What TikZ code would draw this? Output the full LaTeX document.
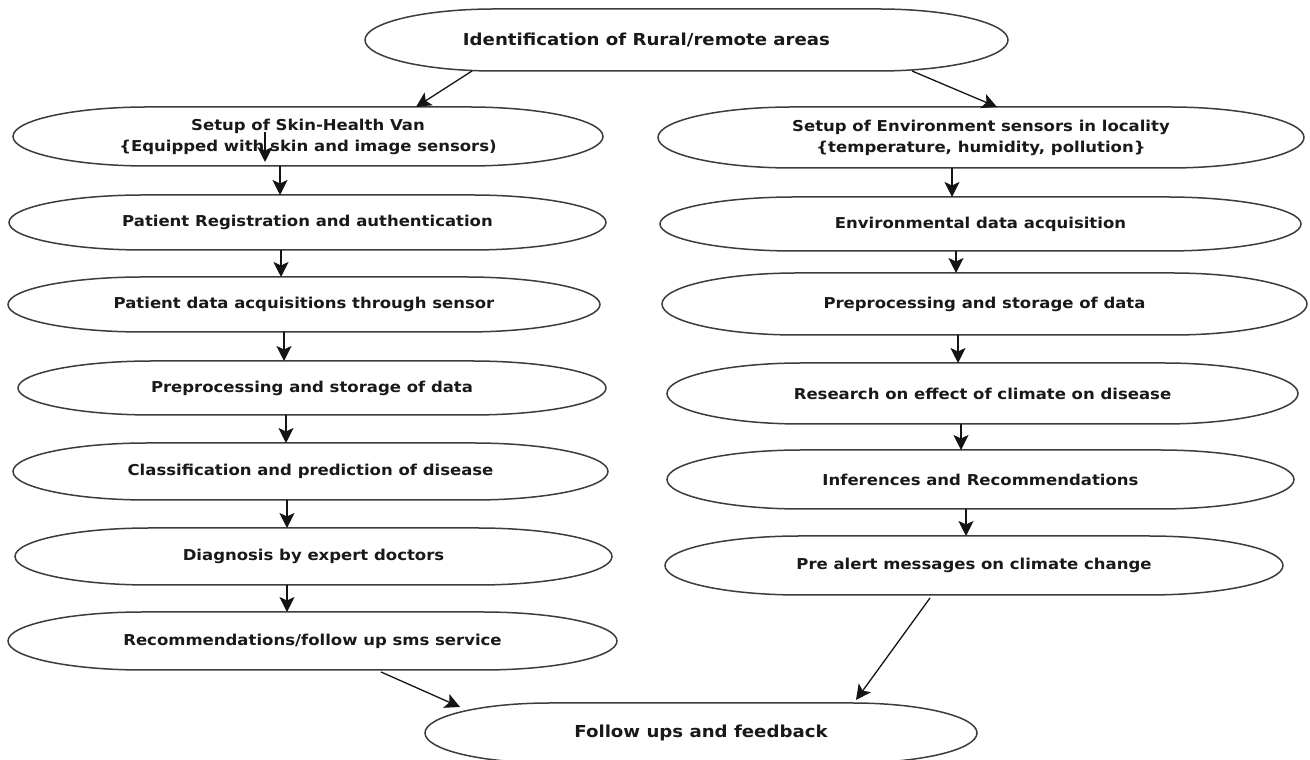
\documentclass[tikz,border=0pt]{standalone}
\usepackage{fontspec}
\setmainfont{DejaVu Sans}[FakeStretch=1.1]
\usetikzlibrary{arrows.meta,calc}
\definecolor{edgec}{RGB}{60,60,60}
\definecolor{arrowc}{RGB}{20,20,20}
% draws the flattened-ellipse outline round a named (invisible) node
\newcommand\drawcap[2]{%
  \draw[shapeline] let \p1=(#1.north), \p2=(#1.center), \n1={\y1-\y2} in
    ([xshift=#2]#1.north west) -- ([xshift=-#2]#1.north east)
    arc[start angle=90, end angle=-90, x radius=#2, y radius=\n1]
    -- ([xshift=#2]#1.south west)
    arc[start angle=270, end angle=90, x radius=#2, y radius=\n1] -- cycle;
}
\begin{document}
\begin{tikzpicture}[x=1pt,y=1pt,
  box/.style={rectangle, draw=none, inner sep=0pt, outer sep=0pt, align=center,
    font=\fontsize{15}{21}\selectfont\bfseries, text=black!90},
  bigbox/.style={box, font=\fontsize{16.5}{20}\selectfont\bfseries},
  shapeline/.style={draw=edgec, line width=1.5pt},
  arr/.style={draw=arrowc, line width=1.3pt, -{Stealth[length=15pt,width=15pt,inset=3.5pt]}}]
\fill[white] (0,0) rectangle (1310,760);
\useasboundingbox (0,0) rectangle (1310,760);

% top
\node[bigbox, minimum width=643pt, minimum height=62pt] (top) at (686.5,720) {Identification of Rural/remote areas\hspace*{80pt}};

% left column
\node[box, minimum width=590pt, minimum height=59pt] (L1) at (308,623.5) {Setup of Skin-Health Van\\\{Equipped with skin and image sensors)};
\node[box, minimum width=597pt, minimum height=55pt] (L2) at (307.5,537.5) {Patient Registration and authentication};
\node[box, minimum width=592pt, minimum height=55pt] (L3) at (304,455.5) {Patient data acquisitions through sensor};
\node[box, minimum width=588pt, minimum height=54pt] (L4) at (312,372) {Preprocessing and storage of data};
\node[box, minimum width=595pt, minimum height=57pt] (L5) at (310.5,288.5) {Classification and prediction of disease};
\node[box, minimum width=597pt, minimum height=57pt] (L6) at (313.5,203.5) {Diagnosis by expert doctors};
\node[box, minimum width=609pt, minimum height=58pt] (L7) at (312.5,119) {Recommendations/follow up sms service};

% right column
\node[box, minimum width=646pt, minimum height=61pt] (R1) at (981,622.5) {Setup of Environment sensors in locality\\\{temperature, humidity, pollution\}};
\node[box, minimum width=641pt, minimum height=54pt] (R2) at (980.5,536) {Environmental data acquisition};
\node[box, minimum width=645pt, minimum height=62pt] (R3) at (984.5,456) {Preprocessing and storage of data};
\node[box, minimum width=631pt, minimum height=61pt] (R4) at (982.5,366.5) {Research on effect of climate on disease};
\node[box, minimum width=627pt, minimum height=59pt] (R5) at (980.5,280.5) {Inferences and Recommendations};
\node[box, minimum width=618pt, minimum height=59pt] (R6) at (974,194.5) {Pre alert messages on climate change};

% bottom
\node[bigbox, minimum width=552pt, minimum height=60pt] (B) at (701,27) {Follow ups and feedback};

% outlines
\drawcap{top}{130pt}
\foreach \nm in {L1,L2,L3,L4,L5,L6,L7,R1,R2,R3,R4,R5,R6}{\drawcap{\nm}{135pt}}
\drawcap{B}{125pt}

% connectors
\draw[arr] ([xshift=-214.5pt]top.south) -- ([xshift=108pt]L1.north);
\draw[arr] ([xshift=225.5pt]top.south) -- ([xshift=16pt]R1.north);

\draw[arr] ([xshift=-43pt,yshift=4pt]L1.center) -- ([xshift=-43pt,yshift=4pt]L1.south);
\draw[arr] ([xshift=-28pt]L1.south) -- ([xshift=-27.5pt]L2.north);
\draw[arr] ([xshift=-26.5pt]L2.south) -- ([xshift=-23pt]L3.north);
\draw[arr] ([xshift=-20pt]L3.south) -- ([xshift=-28pt]L4.north);
\draw[arr] ([xshift=-26pt]L4.south) -- ([xshift=-24.5pt]L5.north);
\draw[arr] ([xshift=-23.5pt]L5.south) -- ([xshift=-26.5pt]L6.north);
\draw[arr] ([xshift=-26.5pt]L6.south) -- ([xshift=-25.5pt]L7.north);
\draw[arr] ([xshift=68.5pt,yshift=-2pt]L7.south) -- ([xshift=-241pt,yshift=-4pt]B.north);

\draw[arr] ([xshift=-29pt]R1.south) -- ([xshift=-28.5pt]R2.north);
\draw[arr] ([xshift=-24.5pt]R2.south) -- ([xshift=-28.5pt]R3.north);
\draw[arr] ([xshift=-26.5pt]R3.south) -- ([xshift=-24.5pt]R4.north);
\draw[arr] ([xshift=-21.5pt]R4.south) -- ([xshift=-19.5pt]R5.north);
\draw[arr] ([xshift=-14.5pt]R5.south) -- ([xshift=-8pt]R6.north);
\draw[arr] ([xshift=-44pt,yshift=-3pt]R6.south) -- ([xshift=155pt,yshift=3pt]B.north);
\end{tikzpicture}
\end{document}
